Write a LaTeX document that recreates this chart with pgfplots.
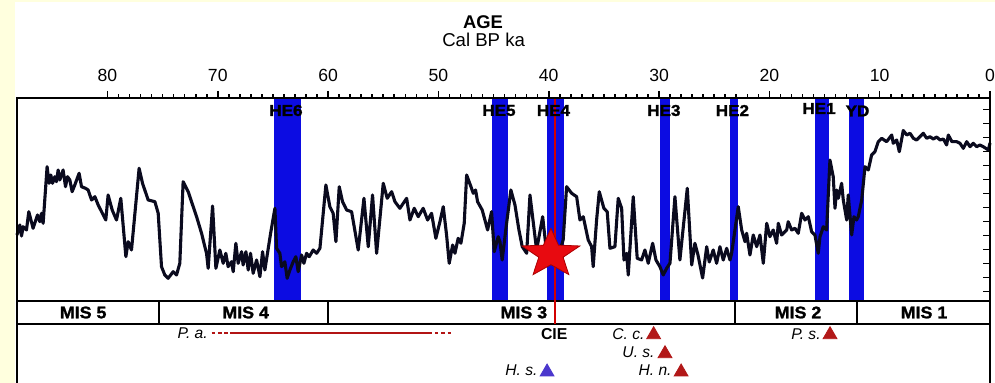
\documentclass[border=0pt]{standalone}
\usepackage{fontspec}
\setmainfont{Liberation Sans}
\newfontfamily\heavyfont{Liberation Sans}[BoldFeatures={FakeBold=1.4}]
\usepackage{pgfplots}
\pgfplotsset{compat=1.18}
\definecolor{bgyellow}{RGB}{255,255,222}
\definecolor{heBlue}{RGB}{12,12,226}
\definecolor{curveC}{RGB}{10,10,30}
\definecolor{cieRed}{RGB}{210,0,0}
\definecolor{starRed}{RGB}{232,10,16}
\definecolor{starDark}{RGB}{170,0,0}
\definecolor{triRed}{RGB}{178,24,24}
\definecolor{triBlue}{RGB}{75,55,205}
\definecolor{paRed}{RGB}{178,20,20}
\pgfdeclareplotmark{cstar}{%
  \pgfpathmoveto{\pgfpoint{0pt}{12.8pt}}%
  \pgfpathlineto{\pgfpoint{-3.76pt}{4.37pt}}%
  \pgfpathlineto{\pgfpoint{-14.46pt}{3.96pt}}%
  \pgfpathlineto{\pgfpoint{-6.09pt}{-1.67pt}}%
  \pgfpathlineto{\pgfpoint{-8.93pt}{-10.36pt}}%
  \pgfpathlineto{\pgfpoint{0pt}{-5.4pt}}%
  \pgfpathlineto{\pgfpoint{8.93pt}{-10.36pt}}%
  \pgfpathlineto{\pgfpoint{6.09pt}{-1.67pt}}%
  \pgfpathlineto{\pgfpoint{14.46pt}{3.96pt}}%
  \pgfpathlineto{\pgfpoint{3.76pt}{4.37pt}}%
  \pgfpathclose
  \pgfusepathqfillstroke
}
\pgfplotstableread{
age v
88.20 165
87.94 175
87.79 164
87.64 173.3
87.34 170
87.13 188.3
86.74 171.7
86.34 185
86.13 178.3
85.98 186.7
85.83 176.7
85.47 233.3
85.29 216.7
85.13 225
84.98 216.7
84.77 223.3
84.62 218.3
84.47 230
84.32 220
84.02 230
83.80 213.3
83.62 223.3
83.41 220
83.20 208.3
82.96 215
82.57 226.7
82.35 213.3
81.99 211.7
81.75 210
81.44 200
81.14 203.3
80.84 195
80.53 188.3
80.15 180
79.94 205
79.57 190
79.18 180
78.79 201.7
78.33 143.3
78.12 158.3
77.82 150
77.13 231.7
76.82 216.7
76.31 200
75.70 198.3
75.40 186.7
75.10 133.3
74.80 125
74.50 121.7
74.04 128.3
73.74 125
73.44 136.7
73.14 218.3
72.68 208.3
72.38 198.3
71.92 183.3
71.47 166.7
71.02 146.7
70.87 131.7
70.47 194
70.17 131.7
69.81 150
69.51 136.7
69.27 146.7
69.06 133.3
68.75 138.3
68.60 128.3
68.36 156.7
68.15 136.7
67.84 148.3
67.70 135
67.45 148.3
67.24 130
67.03 146.7
66.79 126.7
66.48 140
66.18 123.3
65.94 148.3
65.73 130
65.21 166.7
64.82 191.7
64.67 151.7
64.37 146.7
64.22 133.3
63.92 138.3
63.71 121.7
63.46 130
63.16 138.3
62.92 143.3
62.71 128.3
62.40 145
62.19 136.7
61.95 146.7
61.71 143.3
61.35 150
61.04 146.7
60.74 151.7
60.20 215
59.84 193.3
59.54 186.7
59.29 158.3
58.99 213.3
58.69 198.3
58.32 190
57.87 188.3
57.66 175
57.27 150
56.75 201.7
56.36 153.3
55.97 205
55.60 146.7
55.00 216.7
54.64 201.7
54.24 208.3
53.94 198.3
53.49 191.7
52.88 201.7
52.58 180
52.19 191.7
51.83 183.3
51.38 191.7
50.98 180
50.62 186.7
50.23 161.7
49.86 178.3
49.56 193.3
49.26 165
49.02 136.7
48.71 155
48.50 146.7
48.21 161.7
47.96 156.7
47.66 176.7
47.44 225
47.05 213.3
46.84 206.7
46.63 210
46.45 198.3
46.03 190
45.54 170
45.18 188.3
44.94 148.3
44.58 163.3
44.42 158.3
44.22 140
43.82 176.7
43.43 210
43.06 195
42.70 170
42.40 153.3
42.00 146.7
41.70 205
41.10 150
40.55 183.3
40.25 153.3
39.89 165
39.44 145
38.98 150
38.69 160
38.38 213.3
37.92 206.7
37.47 203.3
37.17 180
36.87 183.3
36.42 160
36.11 153.3
35.97 133.3
35.66 180
35.42 208.3
35.00 191.7
34.70 188.3
34.45 151.7
34.00 153.3
33.70 201.7
33.39 191.7
33.18 140
32.94 146.7
32.79 125
32.34 203.3
31.98 141.7
31.58 140
31.28 150
30.98 136.7
30.58 156.7
30.28 140
29.92 133.3
29.62 125
29.31 131.7
29.01 136.7
28.56 203.3
28.11 140
27.44 211.7
27.04 135
26.75 156.7
26.47 145
26.05 122
25.68 153.3
25.45 138
25.09 150
24.78 136.7
24.48 153.3
24.18 140
23.87 151.7
23.57 140
23.42 146.7
22.82 193.3
22.51 170
22.21 158.3
22.06 166.7
21.76 145
21.46 165
21.15 153.3
20.85 165
20.55 136.7
20.24 176.7
19.95 163.3
19.65 170
19.34 156.7
19.19 176.7
18.89 165
18.43 170
18.29 178.3
17.98 170
17.68 171.7
17.38 166.7
17.07 186.7
16.77 180
16.47 183.3
16.17 168.3
15.87 165
15.57 146.7
15.41 163.3
15.11 173.3
14.81 170
14.51 240
14.21 223.3
14.05 191.7
13.90 210
13.75 201.7
13.45 216.7
13.30 200
12.99 180
12.85 205
12.54 165
12.33 183.3
12.09 180
11.94 183.3
11.63 200
11.33 233.3
11.03 230
10.73 245
10.43 248.3
10.13 258.3
9.82 261.7
9.37 258.3
8.91 265
8.77 256.7
8.46 260
8.22 248.3
7.86 269.5
7.55 265
7.25 266.7
6.95 261.7
6.65 260
6.35 263.3
6.05 266.7
5.74 261.7
5.44 263.3
5.14 261
4.83 263
4.53 260
4.23 261
3.93 255
3.78 265
3.45 258.3
3.02 258.3
2.72 256.7
2.42 251.7
2.11 258.3
1.81 253.3
1.51 256.7
1.21 253.3
0.91 255
0.61 253.3
0.15 250
0.00 257
}\curvedata
\begin{document}
\begin{tikzpicture}
\useasboundingbox (0,0) rectangle (497.5pt,-191.5pt);
\fill[bgyellow] (0,0) rectangle (497.5pt,-191.5pt);
\fill[white] (7.5pt,-1.2pt) rectangle (497.5pt,-191.5pt);
\begin{axis}[
  at={(8.5pt,-49pt)}, anchor=north west,
  scale only axis, width=486.5pt, height=145pt,
  xmin=0, xmax=88.2, x dir=reverse,
  ymin=12, ymax=302,
  clip=false, axis on top,
  xtick={0,10,...,80}, minor x tick num=9,
  xtick pos=right, xticklabel pos=right,
  ytick={108.5,122.5,...,290.5}, ytick pos=right, yticklabels={},
  tick align=outside, major tick length=3.5pt, minor tick length=1.8pt,
  tick style={black, line width=0.8pt},
  ytick style={xshift=-3.5pt},
  axis line style={line width=1pt},
  xticklabel style={font=\fontsize{8.8}{10}\selectfont, yshift=1.2pt},
  /pgf/number format/assume math mode=true,
]
% Heinrich events and YD bands
\addplot[fill=heBlue, draw=none] coordinates {(64.9,99)(62.5,99)(62.5,302)(64.9,302)};
\addplot[fill=heBlue, draw=none] coordinates {(45.1,99)(43.7,99)(43.7,302)(45.1,302)};
\addplot[fill=heBlue, draw=none] coordinates {(40.2,99)(38.6,99)(38.6,302)(40.2,302)};
\addplot[fill=heBlue, draw=none] coordinates {(29.9,99)(29.0,99)(29.0,302)(29.9,302)};
\addplot[fill=heBlue, draw=none] coordinates {(23.6,99)(22.8,99)(22.8,302)(23.6,302)};
\addplot[fill=heBlue, draw=none] coordinates {(15.9,99)(14.6,99)(14.6,302)(15.9,302)};
\addplot[fill=heBlue, draw=none] coordinates {(12.8,99)(11.4,99)(11.4,302)(12.8,302)};
% curve
\addplot[curveC, line width=1.55pt, line join=round] table[x=age, y=v] {\curvedata};
% MIS band
\addplot[black, line width=1pt] coordinates {(0,99)(88.2,99)};
\addplot[black, line width=1pt] coordinates {(0,76)(88.2,76)};
\addplot[black, line width=1pt] coordinates {(75.3,99)(75.3,76)};
\addplot[black, line width=1pt] coordinates {(60.0,99)(60.0,76)};
\addplot[black, line width=1pt] coordinates {(23.1,99)(23.1,76)};
\addplot[black, line width=1pt] coordinates {(12.06,99)(12.06,76)};
% CIE line
\addplot[cieRed, line width=1.2pt] coordinates {(39.44,302)(39.44,76)};
% star
\addplot[only marks, mark=cstar, mark options={fill=starRed, draw=starDark, line width=0.4pt}] coordinates {(39.8,146.1)};
% P. a. range
\addplot[paRed, line width=1.1pt, dash pattern=on 1.8pt off 1.4pt] coordinates {(70.56,67.3)(69.06,67.3)};
\addplot[paRed, line width=1.1pt] coordinates {(68.90,67.3)(50.62,67.3)};
\addplot[paRed, line width=1.1pt, dash pattern=on 1.8pt off 1.4pt] coordinates {(50.32,67.3)(48.80,67.3)};
% triangles
\addplot[only marks, mark=triangle*, mark size=4pt, color=triRed] coordinates {(30.49,65.3)(29.46,46.3)(28.0,28)(14.5,65.3)};
\addplot[only marks, mark=triangle*, mark size=4pt, color=triBlue] coordinates {(40.15,28)};
% labels
\node[font=\bfseries\fontsize{9.2}{10}\selectfont] at (axis cs:45.96,377.5) {AGE};
\node[font=\fontsize{9.3}{10}\selectfont] at (axis cs:45.9,360) {Cal BP ka};
\tikzset{helab/.style={font=\heavyfont\bfseries\fontsize{7.9}{9}\selectfont, xscale=1.08, inner sep=0pt}}
\node[helab] at (axis cs:63.82,289.5) {HE6};
\node[helab] at (axis cs:44.51,289.5) {HE5};
\node[helab] at (axis cs:39.57,289.5) {HE4};
\node[helab] at (axis cs:29.56,289.5) {HE3};
\node[helab] at (axis cs:23.35,289.5) {HE2};
\node[helab] at (axis cs:15.50,291.5) {HE1};
\node[helab] at (axis cs:12.01,289) {YD};
\tikzset{mislab/.style={font=\heavyfont\bfseries\fontsize{8.4}{9}\selectfont, xscale=1.06, inner sep=0pt}}
\node[mislab] at (axis cs:82.2,87.5) {MIS 5};
\node[mislab] at (axis cs:67.47,87.5) {MIS 4};
\node[mislab] at (axis cs:42.25,87.5) {MIS 3};
\node[mislab] at (axis cs:17.4,87.5) {MIS 2};
\node[mislab] at (axis cs:5.98,87.5) {MIS 1};
\node[font=\bfseries\fontsize{7.9}{9}\selectfont, inner sep=0pt] at (axis cs:39.5,66) {CIE};
\tikzset{splab/.style={font=\itshape\fontsize{7.8}{9}\selectfont, inner sep=0pt, anchor=east}}
\node[splab] at (axis cs:70.87,67) {P. a.};
\node[splab] at (axis cs:31.28,65.8) {C. c.};
\node[splab] at (axis cs:30.37,47.5) {U. s.};
\node[splab] at (axis cs:28.83,29.5) {H. n.};
\node[splab] at (axis cs:15.32,65.8) {P. s.};
\node[splab] at (axis cs:40.98,29.5) {H. s.};
\end{axis}
\end{tikzpicture}
\end{document}
